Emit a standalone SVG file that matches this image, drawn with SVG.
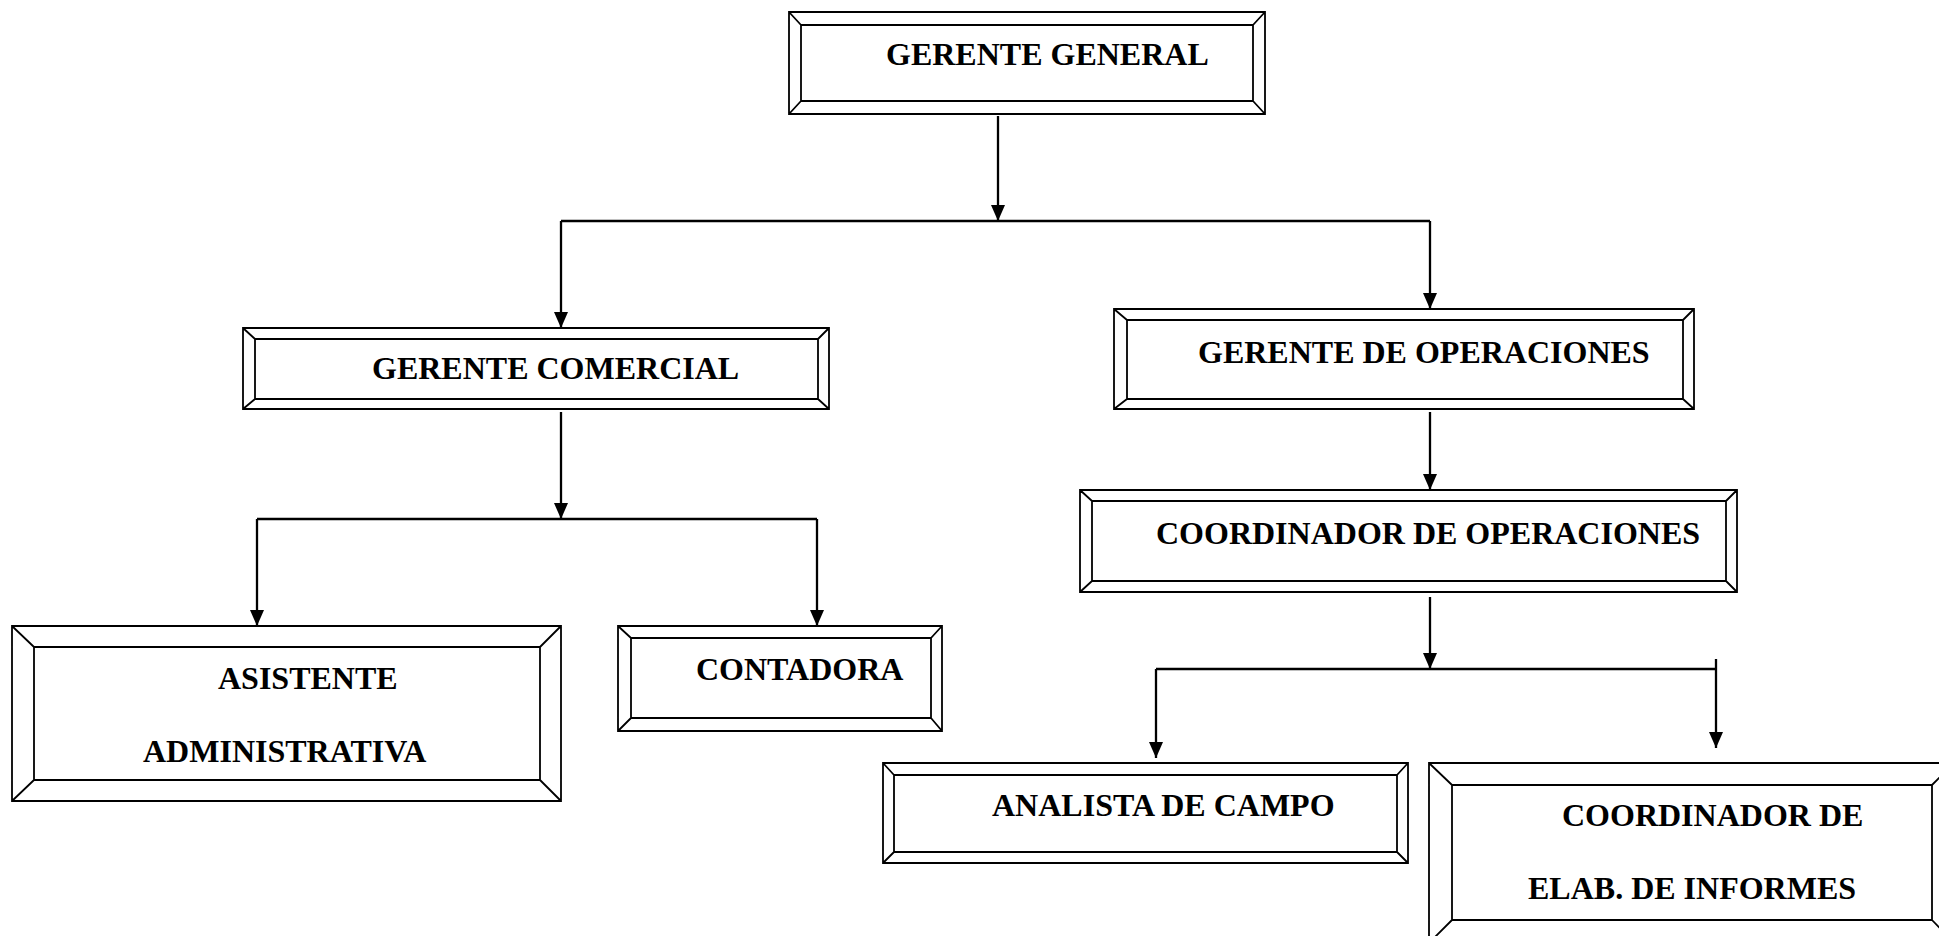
<svg xmlns="http://www.w3.org/2000/svg" width="1939" height="936" viewBox="0 0 1939 936">
<style>
.frame{fill:none;stroke:#000;stroke-width:1.8}
.lbl{font-family:"Liberation Serif","Times New Roman",serif;font-weight:bold;font-size:32px;fill:#000}
.con{fill:none;stroke:#000;stroke-width:2.3}
</style>
<defs>
<marker id="ah" markerUnits="userSpaceOnUse" markerWidth="16" markerHeight="14" refX="16" refY="7" orient="auto">
<path d="M0,0 L16,7 L0,14 Z" fill="#000"/>
</marker>
</defs>
<rect width="1939" height="936" fill="#fff"/>
<g id="connectors">
<line class="con" x1="998" y1="116" x2="998" y2="221" marker-end="url(#ah)"/>
<line class="con" x1="561" y1="221" x2="1430" y2="221"/>
<line class="con" x1="561" y1="221" x2="561" y2="328" marker-end="url(#ah)"/>
<line class="con" x1="1430" y1="221" x2="1430" y2="309" marker-end="url(#ah)"/>
<line class="con" x1="561" y1="412" x2="561" y2="519" marker-end="url(#ah)"/>
<line class="con" x1="257" y1="519" x2="817" y2="519"/>
<line class="con" x1="257" y1="519" x2="257" y2="626" marker-end="url(#ah)"/>
<line class="con" x1="817" y1="519" x2="817" y2="626" marker-end="url(#ah)"/>
<line class="con" x1="1430" y1="412" x2="1430" y2="490" marker-end="url(#ah)"/>
<line class="con" x1="1430" y1="597" x2="1430" y2="669" marker-end="url(#ah)"/>
<line class="con" x1="1156" y1="669" x2="1716" y2="669"/>
<line class="con" x1="1716" y1="659" x2="1716" y2="748" marker-end="url(#ah)"/>
<line class="con" x1="1156" y1="669" x2="1156" y2="758" marker-end="url(#ah)"/>
</g>
<g id="gerente-general">
<path class="frame" d="M789,12 H1265 V114 H789 Z M801,25 H1253 V101 H801 Z M789,12 L801,25 M1265,12 L1253,25 M1265,114 L1253,101 M789,114 L801,101"/>
<text class="lbl" x="886" y="65">GERENTE GENERAL</text>
</g>
<g id="gerente-comercial">
<path class="frame" d="M243,328 H829 V409 H243 Z M255,339 H818 V399 H255 Z M243,328 L255,339 M829,328 L818,339 M829,409 L818,399 M243,409 L255,399"/>
<text class="lbl" x="372" y="379">GERENTE COMERCIAL</text>
</g>
<g id="gerente-operaciones">
<path class="frame" d="M1114,309 H1694 V409 H1114 Z M1127,320 H1683 V399 H1127 Z M1114,309 L1127,320 M1694,309 L1683,320 M1694,409 L1683,399 M1114,409 L1127,399"/>
<text class="lbl" x="1198" y="363">GERENTE DE OPERACIONES</text>
</g>
<g id="coordinador-operaciones">
<path class="frame" d="M1080,490 H1737 V592 H1080 Z M1092,501 H1726 V581 H1092 Z M1080,490 L1092,501 M1737,490 L1726,501 M1737,592 L1726,581 M1080,592 L1092,581"/>
<text class="lbl" x="1156" y="544">COORDINADOR DE OPERACIONES</text>
</g>
<g id="asistente-administrativa">
<path class="frame" d="M12,626 H561 V801 H12 Z M34,647 H540 V780 H34 Z M12,626 L34,647 M561,626 L540,647 M561,801 L540,780 M12,801 L34,780"/>
<text class="lbl" x="218" y="689">ASISTENTE</text>
<text class="lbl" x="143" y="762">ADMINISTRATIVA</text>
</g>
<g id="contadora">
<path class="frame" d="M618,626 H942 V731 H618 Z M631,638 H931 V718 H631 Z M618,626 L631,638 M942,626 L931,638 M942,731 L931,718 M618,731 L631,718"/>
<text class="lbl" x="696" y="680">CONTADORA</text>
</g>
<g id="analista-campo">
<path class="frame" d="M883,763 H1408 V863 H883 Z M894,775 H1397 V852 H894 Z M883,763 L894,775 M1408,763 L1397,775 M1408,863 L1397,852 M883,863 L894,852"/>
<text class="lbl" x="992" y="816">ANALISTA DE CAMPO</text>
</g>
<g id="coordinador-informes">
<path class="frame" d="M1429,763 H1954 V943 H1429 Z M1452,785 H1932 V920 H1452 Z M1429,763 L1452,785 M1954,763 L1932,785 M1954,943 L1932,920 M1429,943 L1452,920"/>
<text class="lbl" x="1562" y="826">COORDINADOR DE</text>
<text class="lbl" x="1528" y="899">ELAB. DE INFORMES</text>
</g>
</svg>
